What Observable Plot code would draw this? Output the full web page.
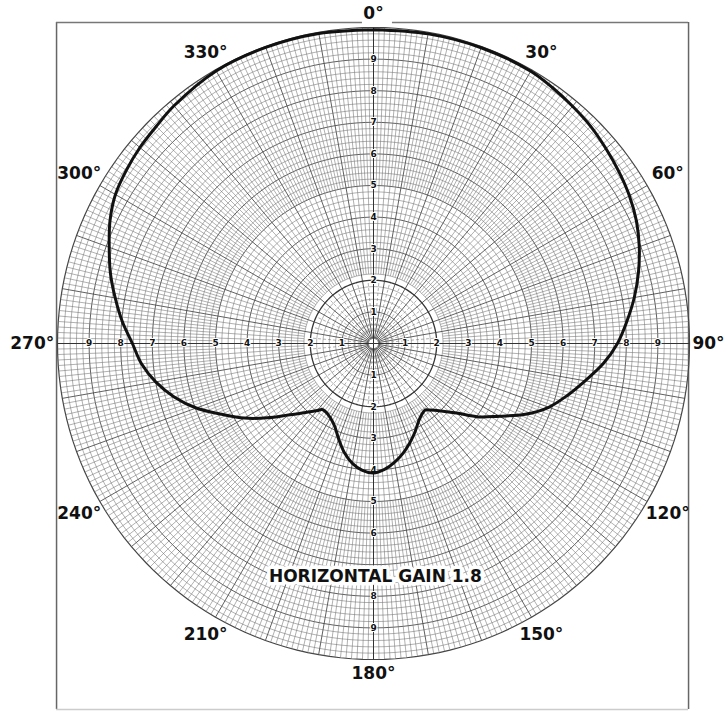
<!DOCTYPE html>
<html><head><meta charset="utf-8">
<script src="https://cdn.jsdelivr.net/npm/d3@7"></script>
<script src="https://cdn.jsdelivr.net/npm/@observablehq/plot@0.6"></script>
<style>html,body{margin:0;padding:0;background:#fff} #chart svg{display:block}</style>
</head><body><div id="chart"></div>
<script>
// ---- chart data (bearing in degrees clockwise from north, relative field 0..10) ----
const angles = [0,10,20,30,35,40,45,50,55,60,65,70,75,80,85,90,95,100,105,110,115,120,125,130,135,140,142,145,150,155,160,165,170,175,180,185,190,195,200,205,210,215,218,220,225,230,235,240,245,250,255,260,265,270,275,280,285,290,295,300,305,310,315,320,330,340,350];
const gains  = [9.93,9.95,9.96,9.95,9.88,9.8,9.72,9.6,9.48,9.35,9.18,8.95,8.68,8.38,8.05,7.72,7.3,6.8,6.35,5.9,5.3,4.6,4.05,3.42,3.02,2.75,2.67,2.7,2.85,3.1,3.35,3.6,3.82,4.0,4.1,4.03,3.85,3.57,3.22,2.9,2.72,2.64,2.65,2.77,3.1,3.52,4.1,4.72,5.3,5.97,6.53,7.0,7.37,7.63,7.98,8.3,8.62,8.9,9.2,9.43,9.55,9.65,9.72,9.82,9.96,9.97,9.96];
const ringTicks = [1,2,3,4,5,6,7,8,9];
const axisBearings = [0,90,180,270];
const angleLabelDeg = [0,30,60,90,120,150,180,210,240,270,300,330];
const angleLabels = ["0°","30°","60°","90°","120°","150°","180°","210°","240°","270°","300°","330°"];
const caption = "HORIZONTAL GAIN 1.8";

// ---- helpers ----
const rad = Math.PI / 180;
const px = (r, t) => r * Math.sin(t * rad);
const py = (r, t) => r * Math.cos(t * rad);

const pattern = angles.map((t, i) => ({t, r: gains[i]}));
pattern.push({t: 360, r: gains[0]});

// chart-paper grid
function circlePts(radii) {
  const out = [];
  for (const r of radii) for (let t = 0; t <= 360; t += 2) out.push({r, t});
  return out;
}
const fineRadii = d3.range(1, 51).map(i => i * 0.2).filter(r => Math.abs(r - Math.round(r)) > 1e-6);
const majorRadii = d3.range(1, 10).filter(r => r !== 2);
const fineCircles = circlePts(fineRadii);
const majorCircles = circlePts(majorRadii);

function spokes(step, r0, r1, skip) {
  const out = [];
  for (let t = 0; t < 360; t += step) if (!skip || t % skip !== 0) out.push({t, r0, r1});
  return out;
}
const spokesOuter = spokes(1, 5, 10, 10);
const spokesMid = spokes(2, 2.2, 5, 10);
const spokesInner = spokes(5, 0.4, 2, 10);
const spokesMajor = spokes(10, 0.15, 10, 90);
const spokesAxes = spokes(90, 0, 10);

const labelR = t => t === 90 ? 10.6 : 10.45 + 0.35 * Math.abs(Math.sin(t * rad));
const axisLabels = [];
for (const t of axisBearings) for (const v of ringTicks) if (!(t === 180 && v === 7)) axisLabels.push({t, v});

const fine = {stroke: "#6e6e6e", strokeWidth: 0.6, strokeOpacity: 0.9};
const major = {stroke: "#444", strokeWidth: 0.85};

const chart = Plot.plot({
  width: 726, height: 712,
  marginLeft: 57, marginRight: 37, marginTop: 27, marginBottom: 53,
  x: {domain: [-10, 10], axis: null},
  y: {domain: [-10, 10], axis: null},
  style: {background: "white", overflow: "visible"},
  marks: [
    // frame
    Plot.ruleX([-10.03], {y1: -11.58, y2: 10.16, stroke: "#666", strokeWidth: 1.5}),
    Plot.ruleX([9.97], {y1: -11.58, y2: 10.16, stroke: "#666", strokeWidth: 1.5}),
    Plot.ruleY([10.16], {x1: -10.03, x2: -0.35, stroke: "#777", strokeWidth: 1.5}),
    Plot.ruleY([10.16], {x1: 0.6, x2: 9.97, stroke: "#777", strokeWidth: 1.5}),
    Plot.ruleY([-11.58], {x1: -10.03, x2: 9.97, stroke: "#ccc", strokeWidth: 1.5}),
    // grid circles
    Plot.line(fineCircles, {x: d => px(d.r, d.t), y: d => py(d.r, d.t), z: "r", ...fine}),
    Plot.line(majorCircles, {x: d => px(d.r, d.t), y: d => py(d.r, d.t), z: "r", ...major}),
    Plot.line(circlePts([2]), {x: d => px(d.r, d.t), y: d => py(d.r, d.t), stroke: "#333", strokeWidth: 1.3}),
    Plot.line(circlePts([10]), {x: d => px(d.r, d.t), y: d => py(d.r, d.t), stroke: "#444", strokeWidth: 1.2}),
    // grid spokes
    Plot.link(spokesOuter, {x1: d => px(d.r0, d.t), y1: d => py(d.r0, d.t), x2: d => px(d.r1, d.t), y2: d => py(d.r1, d.t), ...fine}),
    Plot.link(spokesMid, {x1: d => px(d.r0, d.t), y1: d => py(d.r0, d.t), x2: d => px(d.r1, d.t), y2: d => py(d.r1, d.t), ...fine}),
    Plot.link(spokesInner, {x1: d => px(d.r0, d.t), y1: d => py(d.r0, d.t), x2: d => px(d.r1, d.t), y2: d => py(d.r1, d.t), ...fine, strokeDasharray: "3,2"}),
    Plot.link(spokesMajor, {x1: d => px(d.r0, d.t), y1: d => py(d.r0, d.t), x2: d => px(d.r1, d.t), y2: d => py(d.r1, d.t), ...major}),
    Plot.link(spokesAxes, {x1: d => px(d.r0, d.t), y1: d => py(d.r0, d.t), x2: d => px(d.r1, d.t), y2: d => py(d.r1, d.t), stroke: "#333", strokeWidth: 1}),
    // radial scale numbers on the four axes
    Plot.text(axisLabels, {x: d => px(d.v, d.t), y: d => py(d.v, d.t), text: d => String(d.v),
      fontSize: 9, fontWeight: "bold", fontFamily: "DejaVu Sans", fill: "#111", stroke: "white", strokeWidth: 2}),
    // pattern
    Plot.line(pattern, {x: d => px(d.r, d.t), y: d => py(d.r, d.t), curve: "catmull-rom", stroke: "#111", strokeWidth: 3, strokeLinejoin: "round"}),
    // caption inside chart
    Plot.text([caption], {x: () => 0.06, y: () => -7.37, text: d => d, fontSize: 17, fontWeight: "bold",
      fontFamily: "DejaVu Sans", fill: "#111", stroke: "white", strokeWidth: 7, strokeLinejoin: "round"}),
    // bearing labels
    Plot.text(angleLabelDeg, {x: t => px(labelR(t), t), y: t => py(labelR(t), t), text: (t, i) => angleLabels[i],
      fontSize: 17, fontWeight: "bold", fontFamily: "DejaVu Sans", fill: "#111"})
  ]
});
document.getElementById("chart").appendChild(chart);
</script>
</body></html>
